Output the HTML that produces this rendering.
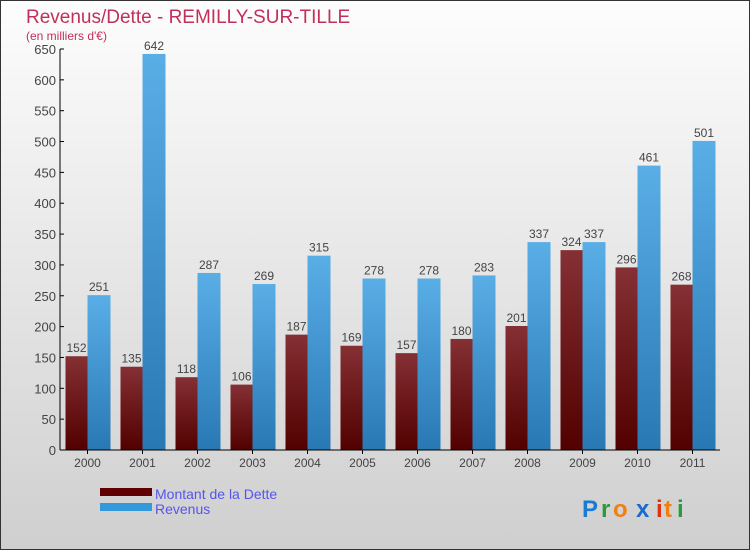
<!DOCTYPE html>
<html><head><meta charset="utf-8"><style>
body{margin:0;}
#c{width:750px;height:550px;position:relative;font-family:"Liberation Sans",sans-serif;}
</style></head><body>
<div id="c">
<svg id="s" width="750" height="550" xmlns="http://www.w3.org/2000/svg">
<defs>
<linearGradient id="bg" x1="0" y1="0" x2="0" y2="1"><stop offset="0" stop-color="#fdfdfd"/><stop offset="1" stop-color="#cfcfcf"/></linearGradient>
<linearGradient id="gd" x1="0" y1="0" x2="0" y2="1"><stop offset="0" stop-color="#853034"/><stop offset="1" stop-color="#520000"/></linearGradient>
<linearGradient id="gr" x1="0" y1="0" x2="0" y2="1"><stop offset="0" stop-color="#5aaee6"/><stop offset="1" stop-color="#2878b4"/></linearGradient>
</defs>
<rect x="0.5" y="0.5" width="749" height="549" fill="url(#bg)" stroke="#333"/>
<text x="26" y="23" font-size="19" fill="#c0305a">Revenus/Dette - REMILLY-SUR-TILLE</text>
<text x="26" y="40" font-size="12" fill="#c0305a">(en milliers d'€)</text>
<g id="plot"></g>
<rect x="100" y="488" width="52" height="8" fill="#600000"/>
<text x="155" y="499" font-size="14" fill="#5555ee">Montant de la Dette</text>
<rect x="100" y="503" width="52" height="8" fill="#3399dd"/>
<text x="155" y="514" font-size="14" fill="#5555ee">Revenus</text>
<g font-size="24" font-weight="bold">
<text x="582" y="517" fill="#1a7ad6">P</text><text x="601" y="517" fill="#2a9a3a">r</text><text x="613" y="517" fill="#f08010">o</text><text x="636" y="517" fill="#1a6ad0">x</text><text x="656" y="517" fill="#e03010">i</text><text x="664" y="517" fill="#f08010">t</text><text x="677" y="517" fill="#2a9a3a">i</text>
</g>
</svg></div>
<script>
const years=["2000","2001","2002","2003","2004","2005","2006","2007","2008","2009","2010","2011"];
const dette=[152,135,118,106,187,169,157,180,201,324,296,268];
const revenus=[251,642,287,269,315,278,278,283,337,337,461,501];
const yTicks=[0,50,100,150,200,250,300,350,400,450,500,550,600,650];
const NS="http://www.w3.org/2000/svg";
const g=document.getElementById('plot');
const x0=60,x1=720,y0=450,y650=49;
const band=(x1-x0)/years.length;
const yS=v=>y0-(v/650)*(y0-y650);
function el(t,a,txt){const e=document.createElementNS(NS,t);for(const k in a)e.setAttribute(k,a[k]);if(txt!==undefined)e.textContent=txt;g.appendChild(e);return e;}
yTicks.forEach(v=>{
 const t=el('text',{x:x0-4,y:yS(v)+5,'font-size':13,fill:'#444','text-anchor':'end'},v);
 
 
 const l=el('line',{x1:x0,x2:x0+4,y1:yS(v),y2:yS(v),stroke:'#000'});
 
 
});
years.forEach((yr,i)=>{
 const c=x0+band*(i+0.5);
 const d=el('rect',{x:c-22,y:yS(dette[i]),width:22,height:y0-yS(dette[i]),fill:'url(#gd)'});
 
 
 const r=el('rect',{x:c,y:yS(revenus[i]),width:23,height:y0-yS(revenus[i]),fill:'url(#gr)'});
 
 
 const dl=el('text',{x:c-11,y:yS(dette[i])-4,'font-size':12,fill:'#444','text-anchor':'middle'},dette[i]);
 
 
 const rl=el('text',{x:c+11.5,y:yS(revenus[i])-4,'font-size':12,fill:'#444','text-anchor':'middle'},revenus[i]);
 
 
 const xl=el('text',{x:c,y:467,'font-size':12,fill:'#444','text-anchor':'middle'},yr);
 
 
 const xt=el('line',{x1:c,x2:c,y1:y0,y2:y0+4,stroke:'#000'});
 
 
});
const ya=el('line',{x1:x0,x2:x0,y1:y650,y2:y0,stroke:'#000'});


const xa=el('line',{x1:x0,x2:x1,y1:y0,y2:y0,stroke:'#000'});


</script>
</body></html>
